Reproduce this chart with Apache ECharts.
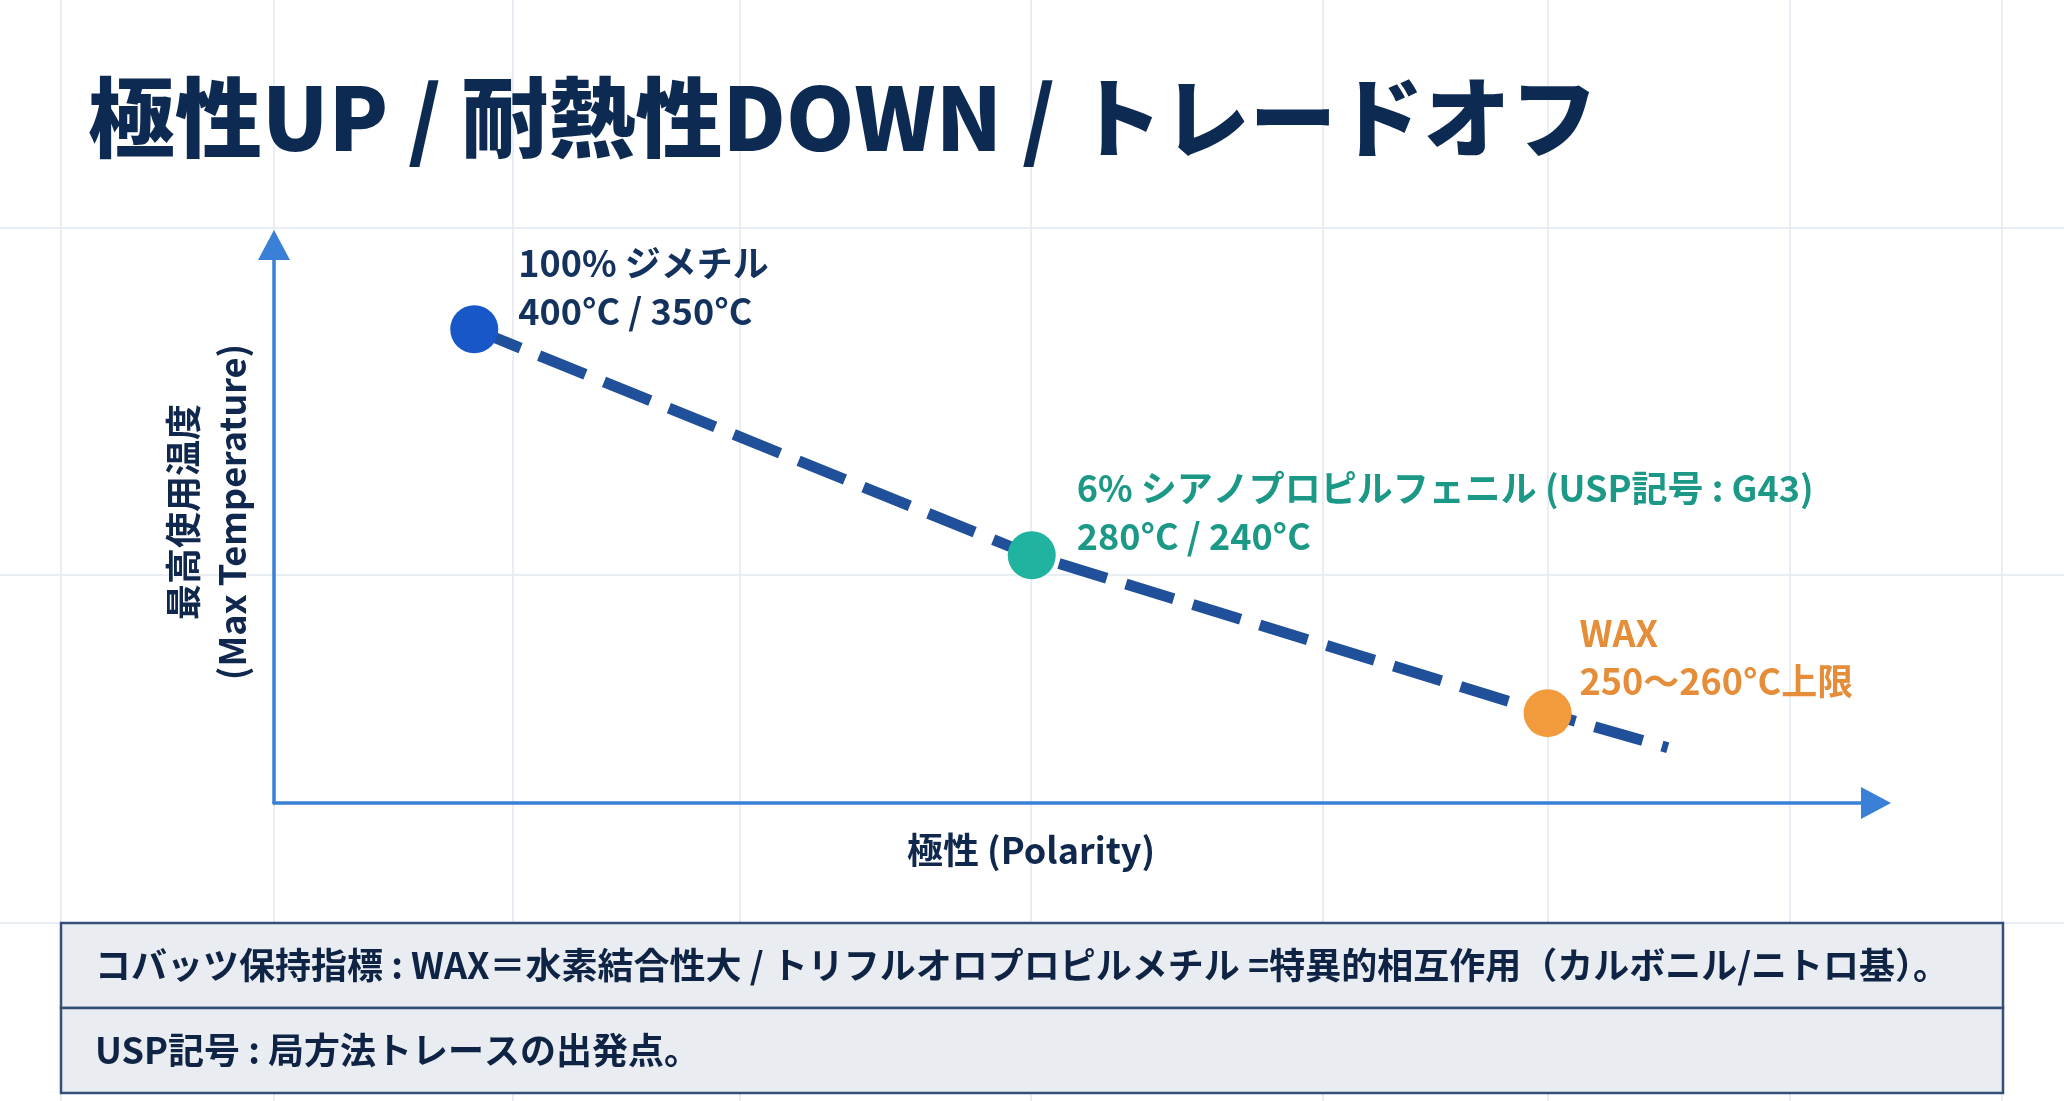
<!DOCTYPE html>
<html><head><meta charset="utf-8">
<script src="https://cdn.jsdelivr.net/npm/echarts@6/dist/echarts.min.js"></script>
<style>html,body{margin:0;padding:0;background:#fff}#c{width:2064px;height:1101px}</style>
</head><body><div id="c"></div>
<script>
// ---- data ----
const titleText = '極性UP / 耐熱性DOWN / トレードオフ';
const phaseNames = ['100% ジメチル', '6% シアノプロピルフェニル (USP記号 : G43)', 'WAX'];
const tempLabels = ['400°C / 350°C', '280°C / 240°C', '250～260°C上限'];
const polarity = [12.5, 47.3, 79.5];
const maxTemp = [84.9, 44.4, 16.1];
const trendPolarity = [12.5, 47.3, 79.5, 87.0];
const trendMaxTemp = [84.9, 44.4, 16.1, 9.9];
const xName = '極性 (Polarity)';
const yName = '最高使用温度\n(Max Temperature)';
const notes = [
  'コバッツ保持指標 : WAX＝水素結合性大 / トリフルオロプロピルメチル =特異的相互作用（カルボニル/ニトロ基）。',
  'USP記号 : 局方法トレースの出発点。'
];

// ---- style ----
const FONT = '"Noto Sans CJK JP", "Noto Sans", sans-serif';
const NAVY = '#10284d';
const AXIS = '#3a80d6';
const GRIDC = '#e2e9f2';
const pointStyles = [
  { fill: '#1757c8', text: '#14325e', offset: [20, -42] },
  { fill: '#1fb3a0', text: '#1b9886', offset: [21, -43] },
  { fill: '#f19b3c', text: '#e58d38', offset: [8, -56] }
];
const bgX = [61, 274, 513, 740, 1031, 1323, 1548, 1790, 2002];
const bgY = [228, 575, 923];

const chart = echarts.init(document.getElementById('c'), null, { renderer: 'canvas' });

const graphics = [];
bgX.forEach(x => graphics.push({ type: 'line', z: -10, silent: true,
  shape: { x1: x, y1: 0, x2: x, y2: 1101 }, style: { stroke: GRIDC, lineWidth: 1.5 } }));
bgY.forEach(y => graphics.push({ type: 'line', z: -10, silent: true,
  shape: { x1: 0, y1: y, x2: 2064, y2: y }, style: { stroke: GRIDC, lineWidth: 1.5 } }));
// notes box
graphics.push({ type: 'rect', z: 20, shape: { x: 61, y: 923, width: 1942, height: 85 },
  style: { fill: '#e9ecf1', stroke: '#34507a', lineWidth: 2.5 } });
graphics.push({ type: 'rect', z: 20, shape: { x: 61, y: 1008, width: 1942, height: 85 },
  style: { fill: '#e9ecf1', stroke: '#34507a', lineWidth: 2.5 } });
notes.forEach((t, i) => graphics.push({ type: 'text', z: 21, x: 95, y: 965 + i * 85,
  style: { text: t, fill: '#0f2444', font: 'bold 36px ' + FONT, textVerticalAlign: 'middle', textAlign: 'left' } }));

const pointData = polarity.map((x, i) => ({
  value: [x, maxTemp[i]],
  itemStyle: { color: pointStyles[i].fill, opacity: 1 },
  label: {
    show: true, position: 'right', distance: 0, offset: pointStyles[i].offset,
    formatter: '{a|' + phaseNames[i] + '}\n{a|' + tempLabels[i] + '}',
    rich: { a: { fontFamily: FONT, fontSize: 36, fontWeight: 600, lineHeight: 48, color: pointStyles[i].text } }
  }
}));

chart.setOption({
  backgroundColor: '#ffffff',
  animation: false,
  title: {
    text: titleText, left: 88, top: 68, padding: 0,
    textStyle: { fontFamily: FONT, fontSize: 87, fontWeight: 900, color: '#0d2a52', lineHeight: 100 }
  },
  graphic: graphics,
  grid: { left: 274, right: 188, top: 245, bottom: 298, containLabel: false },
  xAxis: {
    type: 'value', min: 0, max: 100,
    name: xName, nameLocation: 'middle', nameGap: 27,
    nameTextStyle: { fontFamily: FONT, fontSize: 36, fontWeight: 'bold', color: NAVY, lineHeight: 40, padding: [0, 88, 0, 0] },
    axisLine: { show: true, symbol: ['none', 'triangle'], symbolSize: [32, 30], lineStyle: { color: AXIS, width: 3.5 } },
    axisTick: { show: false }, axisLabel: { show: false }, splitLine: { show: false }
  },
  yAxis: {
    type: 'value', min: 0, max: 100,
    name: yName, nameLocation: 'middle', nameGap: 17, nameRotate: 90,
    nameTextStyle: { fontFamily: FONT, fontSize: 36, fontWeight: 'bold', color: NAVY, lineHeight: 49, padding: [0, 0, 0, 24] },
    axisLine: { show: true, symbol: ['none', 'triangle'], symbolSize: [32, 30], lineStyle: { color: AXIS, width: 3.5 } },
    axisTick: { show: false }, axisLabel: { show: false }, splitLine: { show: false }
  },
  series: [
    {
      type: 'line', z: 2, symbol: 'none', silent: true,
      data: trendPolarity.map((x, i) => [x, trendMaxTemp[i]]),
      lineStyle: { color: '#21509a', width: 11, type: [50, 20], cap: 'butt' }
    },
    {
      type: 'scatter', z: 5, symbol: 'circle', symbolSize: 48,
      itemStyle: { opacity: 1 },
      data: pointData
    }
  ]
});
</script></body></html>
